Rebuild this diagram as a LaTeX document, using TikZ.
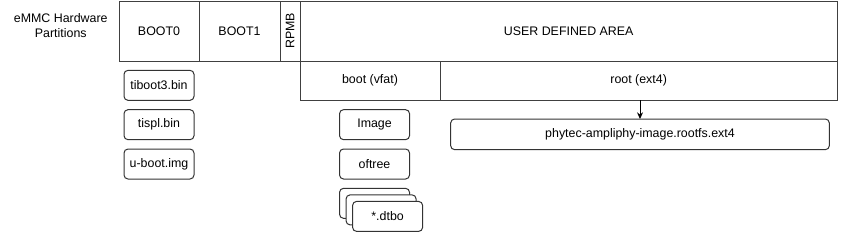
\documentclass[tikz,border=0pt]{standalone}
\usepackage{fontspec}
\setmainfont{Liberation Sans}
\usetikzlibrary{arrows.meta,positioning,calc}

\begin{document}
\begin{tikzpicture}[
    x=0.75pt, y=-0.75pt,
    node distance=7pt,
    every node/.style={font=\fontsize{9.3}{11.5}\selectfont},
    part/.style={rectangle, draw=black!75, line width=0.75pt, minimum height=45pt, inner sep=0pt, outer sep=0pt, align=center},
    fs/.style={rectangle, draw=black!75, line width=0.75pt, minimum height=29.5pt, inner sep=0pt, outer sep=0pt, align=center},
    file/.style={rectangle, draw=black!80, fill=white, line width=0.75pt, rounded corners=3pt, minimum width=52.5pt, minimum height=22.5pt, inner sep=0pt, outer sep=0pt, align=center},
    arrow/.style={line width=0.75pt, -{Stealth[length=5pt, width=4.5pt]}}
]
\useasboundingbox (0,0) rectangle (841,233);

% --- PARTITION ROW ---
\node (boot0) [part, minimum width=60pt, anchor=north west] at (119,1) {BOOT0};
\node (boot1) [part, minimum width=60.75pt, right=0pt of boot0] {BOOT1};
\node (rpmb)  [part, minimum width=15pt, right=0pt of boot1] {};
\node (rpmbtext) [rotate=90] at (rpmb.center) {RPMB};
\node (user)  [part, minimum width=403pt, right=0pt of rpmb] {USER DEFINED AREA};
\node (emmc)  [left=of boot0, xshift=2pt, yshift=4pt, align=center] {eMMC Hardware\\Partitions};

% --- FILESYSTEMS ---
\node (bootfs) [fs, minimum width=105pt, anchor=north west] at (user.south west) {boot (vfat)};
\node (rootfs) [fs, minimum width=298pt, right=0pt of bootfs] {root (ext4)};

% --- BOOT0 files ---
\node (tiboot) [file, below=of boot0] {tiboot3.bin};
\node (tispl)  [file, below=of tiboot] {tispl.bin};
\node (uboot)  [file, below=of tispl] {u-boot.img};

% --- boot (vfat) files ---
\node (image)  [file, below=of bootfs, xshift=3.4pt] {Image};
\node (oftree) [file, below=of image] {oftree};
\node (dtboa)  [file, below=of oftree] {};
\node (dtbob)  [file] at ([xshift=4.9pt, yshift=-4.9pt]dtboa.center) {};
\node (dtbo)   [file] at ([xshift=4.9pt, yshift=-4.9pt]dtbob.center) {*.dtbo};

% --- root (ext4) image ---
\node (rootimg) [file, minimum width=284pt, minimum height=23pt, below=14pt of rootfs, xshift=1pt] {phytec-ampliphy-image.rootfs.ext4};

% --- PATHS ---
\draw [arrow] (rootfs.south -| rootimg.north) -- (rootimg.north);

\end{tikzpicture}
\end{document}
